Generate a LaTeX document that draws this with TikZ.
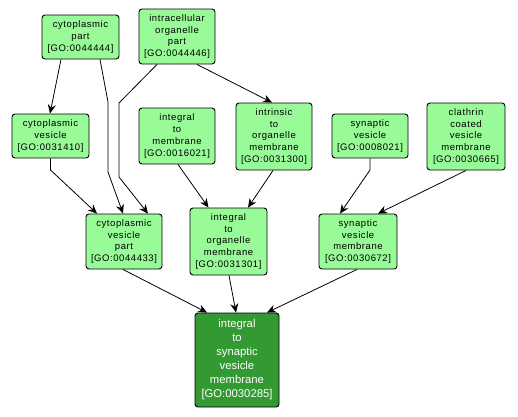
\documentclass[tikz,border=0pt]{standalone}
\usepackage{fontspec}
\setmainfont{Liberation Sans}
\newfontfamily\spacedsans[LetterSpace=6]{Liberation Sans}
\usetikzlibrary{arrows.meta}
\definecolor{lightgo}{RGB}{152,251,152}
\definecolor{darkgo}{RGB}{51,153,51}
\begin{document}
\begin{tikzpicture}[x=1pt,y=-1pt,
  goterm/.style={draw=black, line width=0.9pt, rounded corners=3pt, fill=lightgo, align=center,
    inner sep=0pt, font=\spacedsans\fontsize{9.5}{11.8}\selectfont, text=black},
  goroot/.style={draw=black, line width=0.9pt, rounded corners=3pt, fill=darkgo, align=center,
    inner sep=0pt, font=\fontsize{11.3}{14}\selectfont, text=white},
  rel/.style={draw=black, line width=0.8pt, -{Stealth[length=9pt,width=8pt,inset=3pt]}}]
\useasboundingbox (0,0) rectangle (518,416);
\fill[white] (0,0) rectangle (518,416);
\node[goterm, minimum width=77pt, minimum height=44pt] (cp) at (80.5,37) {cytoplasmic\\part\\{[GO:0044444]}};
\node[goterm, minimum width=76pt, minimum height=55pt] (iop) at (177,36.5) {intracellular\\organelle\\part\\{[GO:0044446]}};
\node[goterm, minimum width=77pt, minimum height=44pt] (cv) at (50.5,136) {cytoplasmic\\vesicle\\{[GO:0031410]}};
\node[goterm, minimum width=76pt, minimum height=56pt] (itm) at (177,136) {integral\\to\\membrane\\{[GO:0016021]}};
\node[goterm, minimum width=76pt, minimum height=67pt] (iom) at (274,136.5) {intrinsic\\to\\organelle\\membrane\\{[GO:0031300]}};
\node[goterm, minimum width=76pt, minimum height=44pt] (sv) at (370,136) {synaptic\\vesicle\\{[GO:0008021]}};
\node[goterm, minimum width=78pt, minimum height=67pt] (ccvm) at (466,136.5) {clathrin\\coated\\vesicle\\membrane\\{[GO:0030665]}};
\node[goterm, minimum width=76pt, minimum height=55pt] (cvp) at (124,241.5) {cytoplasmic\\vesicle\\part\\{[GO:0044433]}};
\node[goterm, minimum width=77pt, minimum height=67pt] (ioom) at (228.5,241.5) {integral\\to\\organelle\\membrane\\{[GO:0031301]}};
\node[goterm, minimum width=78pt, minimum height=55pt] (svm) at (358,241.5) {synaptic\\vesicle\\membrane\\{[GO:0030672]}};
\node[goroot, minimum width=84pt, minimum height=94pt] (isvm) at (237,360) {integral\\to\\synaptic\\vesicle\\membrane\\{[GO:0030285]}};
\draw[rel] ([xshift=-19.5pt]cp.south) -- ([xshift=-0.5pt]cv.north);
\draw[rel] ([xshift=19.5pt]cp.south) -- (108,102) -- (108,172) -- ([xshift=-1pt]cvp.north);
\draw[rel] ([xshift=-20pt]iop.south) -- (119,103) -- (119,177) -- ([xshift=24pt]cvp.north);
\draw[rel] (cv.south) -- (50.5,170) -- ([xshift=-27pt]cvp.north);
\draw[rel] ([xshift=20pt]iop.south) -- ([xshift=-2pt]iom.north);
\draw[rel] ([xshift=1pt]itm.south) -- ([xshift=-20pt]ioom.north);
\draw[rel] ([xshift=-1pt]iom.south) -- ([xshift=19.5pt]ioom.north);
\draw[rel] (sv.south) -- (370,170) -- ([xshift=-18pt]svm.north);
\draw[rel] (ccvm.south) -- ([xshift=20pt]svm.north);
\draw[rel] ([xshift=-1pt]cvp.south) -- ([xshift=-30pt]isvm.north);
\draw[rel] ([xshift=0.5pt]ioom.south) -- ([xshift=-1pt]isvm.north);
\draw[rel] ([xshift=-1pt]svm.south) -- ([xshift=30pt]isvm.north);
\end{tikzpicture}
\end{document}
